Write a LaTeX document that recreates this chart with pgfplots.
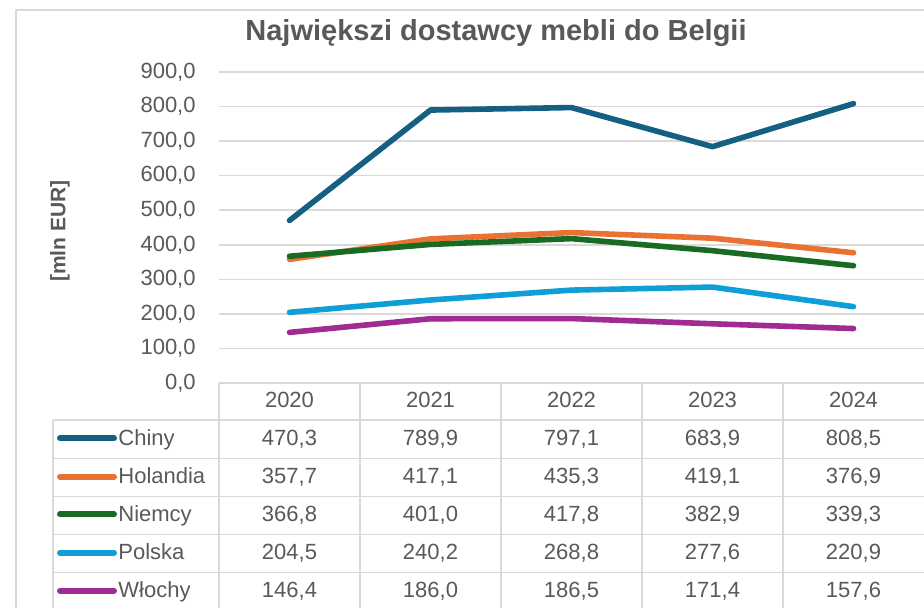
\documentclass[border=0pt]{standalone}
\usepackage{pgfplots}
\pgfplotsset{compat=1.18}
\usepackage{pgfplotstable}
\usepackage{fontspec}
\setmainfont{Liberation Sans}
\definecolor{txt}{HTML}{595959}
\definecolor{gridc}{HTML}{D9D9D9}
\definecolor{cChiny}{HTML}{156082}
\definecolor{cHol}{HTML}{E97132}
\definecolor{cNie}{HTML}{196B24}
\definecolor{cPol}{HTML}{0F9ED5}
\definecolor{cWlo}{HTML}{A02B93}
\pgfplotstableread{
x Chiny Holandia Niemcy Polska Wlochy
0 470.3 357.7 366.8 204.5 146.4
1 789.9 417.1 401.0 240.2 186.0
2 797.1 435.3 417.8 268.8 186.5
3 683.9 419.1 382.9 277.6 171.4
4 808.5 376.9 339.3 220.9 157.6
}\data
\newcommand{\tf}{\fontsize{11}{13}\selectfont}
\newcommand{\cell}[2]{\node[anchor=base, font=\tf, text=txt, inner sep=0pt] at #1 {#2};}
\newcommand{\trow}[6]{%
  \cell{(289.5,#1)}{#2}\cell{(430.5,#1)}{#3}\cell{(571.5,#1)}{#4}%
  \cell{(712.5,#1)}{#5}\cell{(853.5,#1)}{#6}}
\begin{document}
\begin{tikzpicture}
\useasboundingbox (0,0) rectangle (462pt,-304pt);
\clip (0,0) rectangle (462pt,-304pt);
\begin{axis}[
 at={(109.5pt,-191.5pt)}, anchor=south west,
 scale only axis, width=352.5pt, height=155.5pt,
 xmin=-0.5, xmax=4.5, ymin=0, ymax=900,
 axis line style={draw=none},
 xtick=\empty,
 ytick={0,100,...,900},
 ymajorgrids, grid style={gridc, line width=0.75pt},
 major tick length=0pt,
 /pgf/number format/assume math mode=true,
 yticklabel style={font=\tf, text=txt, inner sep=0pt, xshift=-11.5pt,
   /pgf/number format/.cd, fixed, fixed zerofill, precision=1, use comma},
 clip=false,
]
\addplot[cChiny, line width=2.8pt, line cap=round, line join=round] table[x=x,y=Chiny]{\data};
\addplot[cHol, line width=2.8pt, line cap=round, line join=round] table[x=x,y=Holandia]{\data};
\addplot[cNie, line width=2.8pt, line cap=round, line join=round] table[x=x,y=Niemcy]{\data};
\addplot[cPol, line width=2.8pt, line cap=round, line join=round] table[x=x,y=Polska]{\data};
\addplot[cWlo, line width=2.8pt, line cap=round, line join=round] table[x=x,y=Wlochy]{\data};
\end{axis}
\begin{scope}[x=0.5pt,y=-0.5pt]
% chart border
\draw[gridc, line width=0.75pt] (16,620) -- (16,10) -- (940,10);
% title
\node[anchor=base, font=\fontsize{14.5}{17}\selectfont\bfseries, text=txt] at (496,41) {Największi dostawcy mebli do Belgii};
% y label
\node[rotate=90, font=\fontsize{10.5}{12}\selectfont\bfseries, text=txt] at (60,231) {[mln EUR]};
% table grid
\begin{scope}[gridc, line width=0.75pt]
\draw (219,383.3) -- (940,383.3);
\foreach \yy in {420,458.3,496.7,534.5,572.5} \draw (53,\yy) -- (940,\yy);
\draw (53,420) -- (53,620);
\foreach \xx in {219,360,501,642,783} \draw (\xx,383.3) -- (\xx,620);
\end{scope}
% header
\trow{407.7}{2020}{2021}{2022}{2023}{2024}
% legend keys and names
\foreach \yk/\yb/\col/\nm in {438.3/445/cChiny/Chiny, 476.7/483.3/cHol/Holandia, 514.3/521.7/cNie/Niemcy, 552.7/559.3/cPol/Polska, 590.7/597.7/cWlo/Włochy}{
  \draw[\col, line width=3pt, line cap=round] (60,\yk) -- (114,\yk);
  \node[anchor=base west, font=\tf, text=txt, inner sep=0pt] at (118,\yb) {\nm};
}
% values
\trow{445}{470,3}{789,9}{797,1}{683,9}{808,5}
\trow{483.3}{357,7}{417,1}{435,3}{419,1}{376,9}
\trow{521.7}{366,8}{401,0}{417,8}{382,9}{339,3}
\trow{559.3}{204,5}{240,2}{268,8}{277,6}{220,9}
\trow{597.7}{146,4}{186,0}{186,5}{171,4}{157,6}
\end{scope}
\end{tikzpicture}
\end{document}
